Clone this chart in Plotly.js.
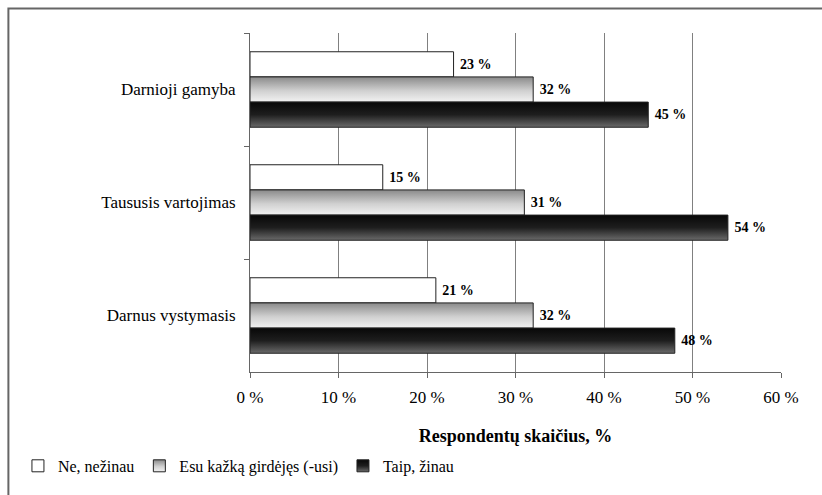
<!DOCTYPE html>
<html>
<head>
<meta charset="utf-8">
<script src="https://cdn.plot.ly/plotly-3.0.1.min.js"></script>
<style>html,body{margin:0;padding:0;background:#fff;}#chart{width:822px;height:495px;}</style>
</head>
<body>
<div id="chart"></div>
<script>
// Data
const categories = ["Darnioji gamyba", "Taususis vartojimas", "Darnus vystymasis"];
const seriesNames = ["Ne, nežinau", "Esu kažką girdėjęs (-usi)", "Taip, žinau"];
const neNezinau = [23, 15, 21];
const esuGirdejes = [32, 31, 32];
const taipZinau = [45, 54, 48];
const tickVals = [0, 10, 20, 30, 40, 50, 60];
const tickText = ["0 %", "10 %", "20 %", "30 %", "40 %", "50 %", "60 %"];
</script>
<script>
const serif = "Liberation Serif";
const fills = ["#ffffff", "#c4c4c4", "#2a2a2a"];
const values = [neNezinau, esuGirdejes, taipZinau];
const traces = values.map((v, i) => ({
  type: "bar",
  orientation: "h",
  name: seriesNames[i],
  y: categories,
  x: v,
  marker: {color: fills[i], line: {color: "#222", width: 1}},
  text: v.map(n => "\u00a0" + n + " %"),
  texttemplate: "%{text}",
  textposition: "outside",
  cliponaxis: false,
  textfont: {family: serif, size: 14, color: "#000", weight: "bold"},
  hoverinfo: "skip"
}));

const layout = {
  width: 822, height: 495,
  margin: {l: 250, r: 40.5, t: 33, b: 116},
  paper_bgcolor: "#fff", plot_bgcolor: "#fff",
  barmode: "group",
  bargap: 0.332,
  bargroupgap: 0,
  font: {family: serif, color: "#000"},
  xaxis: {
    range: [0, 60],
    tickvals: tickVals,
    ticktext: tickText,
    showgrid: true, gridcolor: "#808080", gridwidth: 1,
    showline: true, linecolor: "#666", linewidth: 1,
    ticks: "outside", ticklen: 5, tickcolor: "#666",
    ticklabelstandoff: 5,
    zeroline: false,
    tickfont: {family: serif, size: 17, color: "#000"},
    title: {text: "Respondentų skaičius, %", font: {family: serif, size: 18, color: "#000", weight: "bold"}, standoff: 22}
  },
  yaxis: {
    type: "category",
    autorange: "reversed",
    showline: true, linecolor: "#666", linewidth: 1,
    ticks: "outside", ticklen: 5, tickcolor: "#666",
    tickson: "boundaries",
    showgrid: false, zeroline: false,
    ticklabelstandoff: 10,
    tickfont: {family: serif, size: 17, color: "#000"}
  },
  showlegend: true,
  legend: {
    orientation: "h",
    x: -0.437, xanchor: "left",
    y: -0.277, yanchor: "middle",
    font: {family: serif, size: 16, color: "#000"},
    itemwidth: 30,
    tracegroupgap: 0,
    bgcolor: "rgba(0,0,0,0)"
  },
  shapes: [{
    type: "rect", xref: "paper", yref: "paper",
    x0: -0.455, x1: 1.47, y0: -0.38, y1: 1.0723,
    line: {color: "#666", width: 2}, fillcolor: "rgba(0,0,0,0)", layer: "below"
  }]
};

Plotly.newPlot("chart", traces, layout, {staticPlot: true, displayModeBar: false}).then(gd => {
  const svg = gd.querySelector("svg.main-svg");
  const ns = "http://www.w3.org/2000/svg";
  let defs = svg.querySelector("defs");
  if (!defs) { defs = document.createElementNS(ns, "defs"); svg.insertBefore(defs, svg.firstChild); }
  const grads = {
    gGray: [["0", "#8a8a8a"], ["0.55", "#d0d0d0"], ["1", "#f2f2f2"]],
    gDark: [["0", "#080808"], ["0.5", "#1e1e1e"], ["1", "#6a6a6a"]]
  };
  Object.keys(grads).forEach(id => {
    const lg = document.createElementNS(ns, "linearGradient");
    lg.setAttribute("id", id);
    lg.setAttribute("x1", "0"); lg.setAttribute("y1", "0");
    lg.setAttribute("x2", "0"); lg.setAttribute("y2", "1");
    grads[id].forEach(([o, c]) => {
      const s = document.createElementNS(ns, "stop");
      s.setAttribute("offset", o); s.setAttribute("stop-color", c);
      lg.appendChild(s);
    });
    defs.appendChild(lg);
  });
  const ids = [null, "gGray", "gDark"];
  gd.querySelectorAll(".barlayer .trace").forEach((t, i) => {
    if (!ids[i]) return;
    t.querySelectorAll("path").forEach(p => { p.style.fill = "url(#" + ids[i] + ")"; });
  });
  gd.querySelectorAll(".legend .traces").forEach((t, i) => {
    if (!ids[i]) return;
    t.querySelectorAll(".legendpoints path").forEach(p => { p.style.fill = "url(#" + ids[i] + ")"; });
  });
});
</script>
</body>
</html>
